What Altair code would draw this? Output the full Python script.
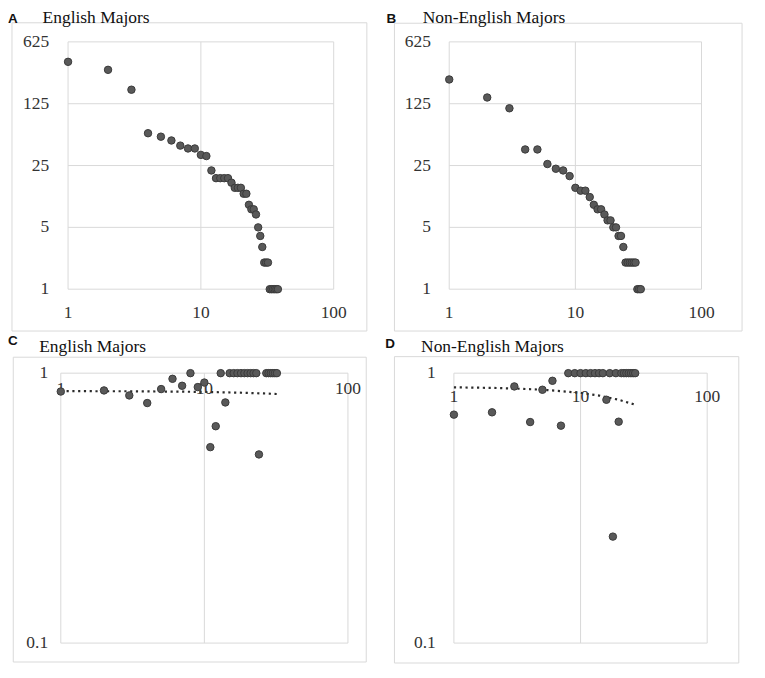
import altair as alt
import pandas as pd

# ---------------- data ----------------
# Panel A: English majors (rank vs. frequency)
a_rank = list(range(1, 39))
a_freq = [372, 302, 180, 58, 53, 48, 42, 39, 39, 33,
          32, 22, 18, 18, 18, 18, 16, 14, 14, 14,
          12, 12, 9, 8, 8, 7, 5, 4, 3, 2,
          2, 2, 1, 1, 1, 1, 1, 1]

# Panel B: Non-English majors (rank vs. frequency)
b_rank = list(range(1, 34))
b_freq = [235, 147, 111, 38, 38, 26, 23, 22, 19, 14,
          13, 13, 11, 9, 8, 8, 7, 6, 6, 5,
          5, 4, 4, 3, 2, 2, 2, 2, 2, 2,
          1, 1, 1]

# Panel C: English majors (ratio values)
c_x = [1, 2, 3, 4, 5, 6, 7, 8, 9, 10, 11, 12, 13, 14,
       15, 16, 17, 18, 19, 20, 21, 22, 23, 24,
       27, 28, 29, 30, 31, 32]
c_y = [0.855, 0.863, 0.827, 0.775, 0.873, 0.953, 0.898, 1.0, 0.888, 0.923,
       0.532, 0.636, 1.0, 0.779,
       1.0, 1.0, 1.0, 1.0, 1.0, 1.0, 1.0, 1.0, 1.0, 0.5,
       1.0, 1.0, 1.0, 1.0, 1.0, 1.0]
c_trend_x = [1, 2, 3, 5, 7, 10, 14, 20, 26, 32]
c_trend_y = [0.858, 0.857, 0.857, 0.855, 0.854, 0.852, 0.849, 0.845, 0.841, 0.837]

# Panel D: Non-English majors (ratio values)
d_x = list(range(1, 28))
d_y = [0.702, 0.716, 0.893, 0.659, 0.868, 0.937, 0.639,
       1.0, 1.0, 1.0, 1.0, 1.0, 1.0, 1.0, 1.0,
       0.797, 1.0, 0.248, 1.0, 0.661,
       1.0, 1.0, 1.0, 1.0, 1.0, 1.0, 1.0]
d_trend_x = [1, 2, 3, 5, 7, 10, 14, 20, 27]
d_trend_y = [0.886, 0.882, 0.877, 0.868, 0.858, 0.845, 0.826, 0.797, 0.764]

# axis ticks and their labels
x_ticks = [1, 10, 100]
x_tick_labels = ["1", "10", "100"]
ab_y_ticks = [1, 5, 25, 125, 625]
ab_y_tick_labels = ["1", "5", "25", "125", "625"]
cd_y_ticks = [0.1, 1]
cd_y_tick_labels = ["0.1", "1"]

# ---------------- styling ----------------
GRID = "#d9d9d9"
FRAME = "#d9d9d9"
PT_FILL = "#595959"
PT_STROKE = "#3a3a3a"
SERIF = "Liberation Serif"
LABEL_SIZE = 17.5
LABEL_COLOR = "#333333"
one = pd.DataFrame({"k": [0]})


def panel(p):
    xsc = alt.Scale(type="log", domain=[1, 100], range=p["xr"], nice=False)
    ysc = alt.Scale(type="log", base=p["ybase"], domain=p["ydom"], range=p["yr"], nice=False)
    x0, x1 = p["xr"]
    yb, yt = p["yr"]
    L = []

    f = p["frame"]
    L.append(alt.Chart(one).mark_rect(fillOpacity=0, stroke=FRAME, strokeWidth=1).encode(
        x=alt.value(f[0]), x2=alt.value(f[1]), y=alt.value(f[2]), y2=alt.value(f[3])))

    # grid lines at the tick values
    L.append(alt.Chart(pd.DataFrame({"v": x_ticks})).mark_rule(color=GRID, strokeWidth=1).encode(
        x=alt.X("v:Q", scale=xsc, axis=None), y=alt.value(yt), y2=alt.value(yb)))
    L.append(alt.Chart(pd.DataFrame({"v": p["yticks"]})).mark_rule(color=GRID, strokeWidth=1).encode(
        y=alt.Y("v:Q", scale=ysc, axis=None), x=alt.value(x0), x2=alt.value(x1)))

    # trend line
    if p.get("tx") is not None:
        L.append(alt.Chart(pd.DataFrame({"x": p["tx"], "y": p["ty"]})).mark_line(
            strokeDash=[2.2, 3.6], strokeWidth=2.2, color="#2b2b2b", strokeCap="butt").encode(
            x=alt.X("x:Q", scale=xsc, axis=None), y=alt.Y("y:Q", scale=ysc, axis=None)))

    # tick labels
    L.append(alt.Chart(pd.DataFrame({"v": x_ticks, "t": x_tick_labels})).mark_text(
        font=SERIF, fontSize=LABEL_SIZE, color=LABEL_COLOR, align="center",
        baseline="alphabetic").encode(
        x=alt.X("v:Q", scale=xsc, axis=None), y=alt.value(p["xlab_y"]), text="t:N"))
    L.append(alt.Chart(pd.DataFrame({"v": p["yticks"], "t": p["ylabels"]})).mark_text(
        font=SERIF, fontSize=LABEL_SIZE, color=LABEL_COLOR, align="right",
        baseline="middle").encode(
        y=alt.Y("v:Q", scale=ysc, axis=None), x=alt.value(p["ylab_x"]), text="t:N"))

    # data points
    L.append(alt.Chart(pd.DataFrame({"x": p["x"], "y": p["y"]})).mark_circle(
        size=56, color=PT_FILL, stroke=PT_STROKE, strokeWidth=1, opacity=1).encode(
        x=alt.X("x:Q", scale=xsc, axis=None), y=alt.Y("y:Q", scale=ysc, axis=None)))

    # panel letter and title
    L.append(alt.Chart(one).mark_text(text=p["letter"], font="Liberation Sans", fontWeight="bold",
                                      fontSize=13.5, align="left", baseline="alphabetic",
                                      color="#111111").encode(
        x=alt.value(p["letter_xy"][0]), y=alt.value(p["letter_xy"][1])))
    L.append(alt.Chart(one).mark_text(text=p["title"], font=SERIF, fontSize=17.5,
                                      align="left", baseline="alphabetic",
                                      color="#111111").encode(
        x=alt.value(p["title_xy"][0]), y=alt.value(p["title_xy"][1])))
    return L


pA = dict(x=a_rank, y=a_freq, ydom=[1, 625], ybase=5, yticks=ab_y_ticks, ylabels=ab_y_tick_labels,
          xr=[60.3, 327], yr=[281, 32.7], frame=(4, 360.3, 13.5, 323),
          xlab_y=310.3, ylab_x=41.3, letter="A", letter_xy=(0, 13.5),
          title="English Majors", title_xy=(34.7, 13.5))
pB = dict(x=b_rank, y=b_freq, ydom=[1, 625], ybase=5, yticks=ab_y_ticks, ylabels=ab_y_tick_labels,
          xr=[443, 696.3], yr=[281, 32.7], frame=(388, 737, 14, 323),
          xlab_y=310.3, ylab_x=424.7, letter="B", letter_xy=(380, 13.5),
          title="Non-English Majors", title_xy=(416.3, 13.5))
pC = dict(x=c_x, y=c_y, tx=c_trend_x, ty=c_trend_y, ydom=[0.1, 1], ybase=10,
          yticks=cd_y_ticks, ylabels=cd_y_tick_labels,
          xr=[53, 341.3], yr=[636.3, 365.3], frame=(5.3, 359.7, 349.3, 655.3),
          xlab_y=386.5, ylab_x=40.3, letter="C", letter_xy=(0, 337),
          title="English Majors", title_xy=(31.3, 343.7))
pD = dict(x=d_x, y=d_y, tx=d_trend_x, ty=d_trend_y, ydom=[0.1, 1], ybase=10,
          yticks=cd_y_ticks, ylabels=cd_y_tick_labels,
          xr=[447.7, 702], yr=[636.3, 365.3], frame=(388, 733.7, 348.7, 656.3),
          xlab_y=394.7, ylab_x=429.5, letter="D", letter_xy=(378.7, 340.3),
          title="Non-English Majors", title_xy=(414.7, 343.7))

layers = panel(pA) + panel(pB) + panel(pC) + panel(pD)

chart = alt.layer(*layers).resolve_scale(
    x="independent", y="independent"
).properties(
    width=752, height=662,
    autosize=alt.AutoSizeParams(type="none"),
    padding=0,
    background="white",
).configure_view(strokeWidth=0)

chart.save("out.html", embed_options={"renderer": "svg", "actions": False})
